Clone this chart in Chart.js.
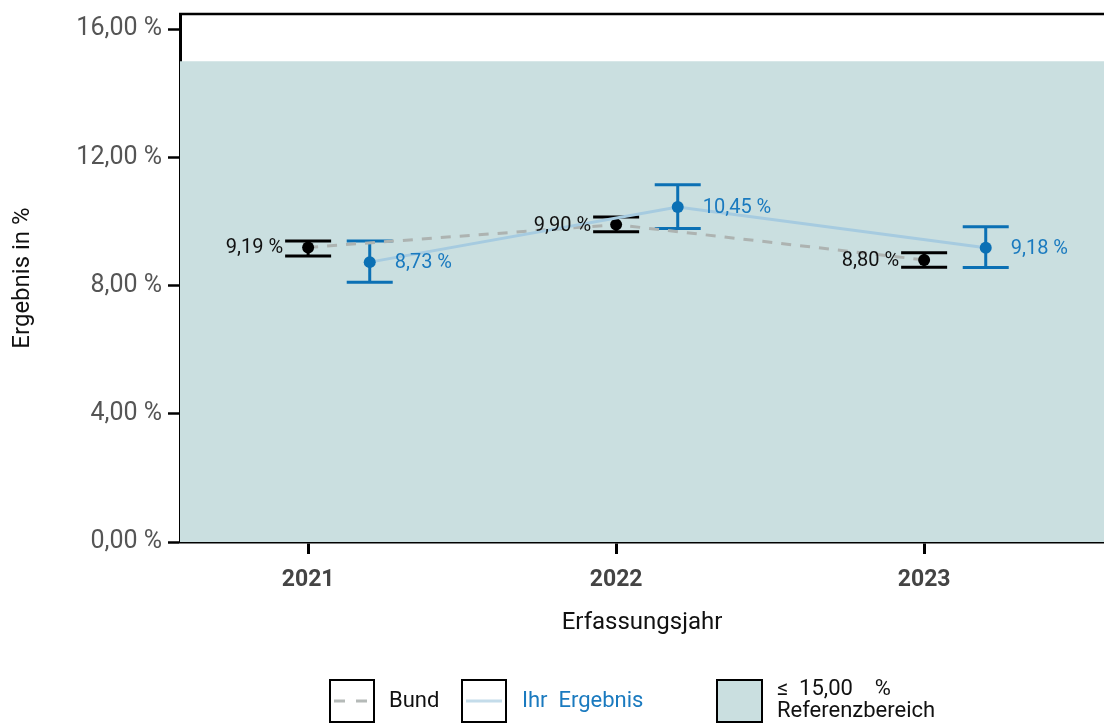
<!DOCTYPE html>
<html>
<head>
<meta charset="utf-8">
<script src="https://cdn.jsdelivr.net/npm/chart.js@4"></script>
<style>
  body { margin: 0; background: #fff; }
  #wrap { width: 1104px; height: 725px; }
</style>
</head>
<body>
<div id="wrap"><canvas id="chart" width="1104" height="725"></canvas></div>
<script>
const years = [2021, 2022, 2023];
const bundValues = [9.19, 9.90, 8.80];
const bundLower = [8.92, 9.68, 8.57];
const bundUpper = [9.39, 10.14, 9.02];
const ihrValues = [8.73, 10.45, 9.18];
const ihrLower = [8.10, 9.78, 8.56];
const ihrUpper = [9.39, 11.14, 9.83];
const yTicks = [0, 4, 8, 12, 16];
const referenceLimit = 15;

const dodge = 0.2;
const xMin = 2020.584, xMax = 2023.584;
const font = "Roboto, 'DejaVu Sans', sans-serif";
const fmt = (v) => v.toFixed(2).replace(".", ",") + " %";

const bandColor = "#cadfe0";
const bundColor = "#000000";
const ihrColor = "#0b70b4";

const ctx = document.getElementById("chart").getContext("2d");

const errorBars = {
  id: "errorBars",
  afterDatasetDraw(chart, args) {
    if (args.index !== 0) return;
    const c = chart.ctx, x = chart.scales.x, y = chart.scales.y;
    const half = 23;
    const draw = (xs, lo, hi, color) => {
      c.save();
      c.strokeStyle = color;
      c.lineWidth = 3;
      xs.forEach((xv, i) => {
        const px = x.getPixelForValue(xv);
        const pl = y.getPixelForValue(lo[i]);
        const ph = y.getPixelForValue(hi[i]);
        c.beginPath();
        c.moveTo(px - half, ph); c.lineTo(px + half, ph);
        c.moveTo(px - half, pl); c.lineTo(px + half, pl);
        c.moveTo(px, ph); c.lineTo(px, pl);
        c.stroke();
      });
      c.restore();
    };
    draw(years, bundLower, bundUpper, bundColor);
    draw(years.map((v) => v + dodge), ihrLower, ihrUpper, ihrColor);
  },
  afterDatasetsDraw(chart) {
    const c = chart.ctx, x = chart.scales.x, y = chart.scales.y;
    c.save();
    c.font = "20px " + font;
    c.textBaseline = "middle";
    years.forEach((yr, i) => {
      c.fillStyle = "#111";
      c.textAlign = "right";
      c.fillText(fmt(bundValues[i]), x.getPixelForValue(yr) - 25, y.getPixelForValue(bundValues[i]) + 1);
      c.fillStyle = "#1a7abf";
      c.textAlign = "left";
      c.fillText(fmt(ihrValues[i]), x.getPixelForValue(yr + dodge) + 25, y.getPixelForValue(ihrValues[i]) + 1);
    });
    c.restore();
  },
  afterDraw(chart) {
    const c = chart.ctx, a = chart.chartArea;
    c.save();
    // top border of the panel
    c.strokeStyle = "#000";
    c.lineWidth = 2.5;
    c.beginPath();
    c.moveTo(a.left - 1, a.top);
    c.lineTo(a.right, a.top);
    c.stroke();

    // legend
    c.lineWidth = 2;
    c.strokeStyle = "#000";
    c.strokeRect(330, 680, 44, 42);
    c.strokeRect(462, 680, 44, 42);
    c.fillStyle = bandColor;
    c.fillRect(717, 680, 45, 42);
    c.strokeRect(717, 680, 45, 42);

    c.lineWidth = 3;
    c.strokeStyle = "#b5bab8";
    c.setLineDash([11, 11]);
    c.beginPath();
    c.moveTo(334, 701); c.lineTo(371, 701);
    c.stroke();
    c.setLineDash([]);
    c.strokeStyle = "#c4dcea";
    c.beginPath();
    c.moveTo(466, 701); c.lineTo(502, 701);
    c.stroke();

    c.font = "22px " + font;
    c.textAlign = "left";
    c.textBaseline = "middle";
    c.fillStyle = "#111";
    c.fillText("Bund", 389, 701);
    c.fillStyle = "#1a7abf";
    c.fillText("Ihr  Ergebnis", 522, 701);
    c.fillStyle = "#111";
    c.fillText("\u2264  15,00    %", 777, 689);
    c.fillText("Referenzbereich", 777, 711);
    c.restore();
  },
};

new Chart(ctx, {
  type: "line",
  data: {
    datasets: [
      {
        label: "Referenzbereich",
        data: [{ x: xMin, y: referenceLimit }, { x: xMax, y: referenceLimit }],
        borderWidth: 0,
        pointRadius: 0,
        backgroundColor: bandColor,
        fill: "origin",
        order: 10,
      },
      {
        label: "Bund",
        data: years.map((yr, i) => ({ x: yr, y: bundValues[i] })),
        borderColor: "#adb3b1",
        borderWidth: 3,
        borderDash: [10, 9],
        pointRadius: 6,
        pointBackgroundColor: bundColor,
        pointBorderWidth: 0,
        fill: false,
        order: 2,
      },
      {
        label: "Ihr Ergebnis",
        data: years.map((yr, i) => ({ x: yr + dodge, y: ihrValues[i] })),
        borderColor: "#a6cbe0",
        borderWidth: 3,
        pointRadius: 6,
        pointBackgroundColor: ihrColor,
        pointBorderWidth: 0,
        fill: false,
        order: 1,
      },
    ],
  },
  options: {
    responsive: false,
    animation: false,
    layout: { autoPadding: false, padding: { left: 9, top: 14, right: 0, bottom: 88 } },
    plugins: { legend: { display: false }, tooltip: { enabled: false } },
    scales: {
      x: {
        type: "linear",
        min: xMin,
        max: xMax,
        afterBuildTicks: (s) => { s.ticks = years.map((v) => ({ value: v })); },
        afterFit: (s) => { s.height = 95; s.paddingLeft = 0; s.paddingRight = 0; },
        grid: { drawOnChartArea: false, drawTicks: true, tickLength: 12, tickColor: "#000", tickWidth: 3 },
        border: { display: true, color: "#000", width: 2.5 },
        ticks: {
          padding: 12,
          color: "#444",
          font: { family: font, size: 23, weight: "bold" },
          callback: (v) => String(v),
        },
        title: {
          display: true,
          text: "Erfassungsjahr",
          color: "#111",
          padding: 0,
          font: { family: font, size: 24 },
        },
      },
      y: {
        min: 0,
        max: 16.47,
        afterBuildTicks: (s) => { s.ticks = yTicks.map((v) => ({ value: v })); },
        afterFit: (s) => { s.width = 171; s.paddingTop = 0; s.paddingBottom = 0; },
        grid: { drawOnChartArea: false, drawTicks: true, tickLength: 12, tickColor: "#000", tickWidth: 2.5 },
        border: { display: true, color: "#000", width: 3 },
        ticks: {
          padding: 6,
          color: "#555",
          font: { family: font, size: 25 },
          callback: (v) => fmt(v),
        },
        title: {
          display: true,
          text: "Ergebnis in %",
          color: "#111",
          padding: 0,
          font: { family: font, size: 24 },
        },
      },
    },
  },
  plugins: [errorBars],
});
</script>
</body>
</html>
